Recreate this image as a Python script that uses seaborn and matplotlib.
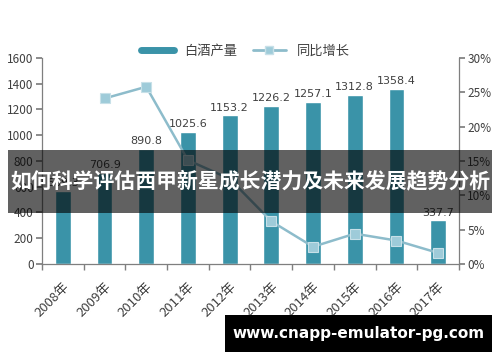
import numpy as np
import pandas as pd
import matplotlib.pyplot as plt
import seaborn as sns
from matplotlib.lines import Line2D
from matplotlib.patches import Rectangle
from matplotlib.ticker import FuncFormatter

# chart data
years = ['2008年', '2009年', '2010年', '2011年', '2012年',
         '2013年', '2014年', '2015年', '2016年', '2017年']
output = [569.3, 706.9, 890.8, 1025.6, 1153.2, 1226.2, 1257.1, 1312.8, 1358.4, 337.7]
growth = [np.nan, 24.1, 25.8, 15.1, 12.4, 6.2, 2.5, 4.4, 3.4, 1.6]

bar_name = '白酒产量'
line_name = '同比增长'
title_text = '如何科学评估西甲新星成长潜力及未来发展趋势分析'
site_text = 'www.cnapp-emulator-pg.com'

BAR_COLOR = '#3a93a8'
LINE_COLOR = '#8dbccb'
TEXT_COLOR = '#404040'

sns.set_theme(style='white')
plt.rcParams['font.family'] = ['Noto Sans CJK SC', 'DejaVu Sans']

df = pd.DataFrame({'year': years, 'output': output, 'growth': growth})

fig = plt.figure(figsize=(5, 3.62), dpi=100)
ax = fig.add_axes([0.084, 0.271, 0.834, 0.569])

sns.barplot(data=df, x='year', y='output', color=BAR_COLOR, saturation=1,
            width=0.38, ax=ax)
ax.set_xlim(-0.5, len(years) - 0.5)
ax.set_ylim(0, 1600)
ax.set_yticks(range(0, 1601, 200))
ax.set_xlabel('')
ax.set_ylabel('')

for c in ax.containers:
    ax.bar_label(c, labels=[f'{v:.1f}' for v in output], padding=2,
                 fontsize=8, color=TEXT_COLOR, family='DejaVu Sans')

ax2 = ax.twinx()
sns.lineplot(data=df, x='year', y='growth', ax=ax2, sort=False,
             color=LINE_COLOR, lw=1.8, marker='s', markersize=7,
             markerfacecolor='#9ecbd9', markeredgecolor='#c7e0e8',
             markeredgewidth=0.8)
ax2.set_ylim(0, 30)
ax2.set_yticks(range(0, 31, 5))
ax2.yaxis.set_major_formatter(FuncFormatter(lambda v, p: f'{v:.0f}%'))
ax2.set_ylabel('')
ax2.set_xlim(-0.5, len(years) - 0.5)

# axis styling
for a in (ax, ax2):
    a.spines['top'].set_visible(False)
    for s in ('left', 'right', 'bottom'):
        a.spines[s].set_color('#7f7f7f')
        a.spines[s].set_linewidth(0.9)
ax.spines['right'].set_visible(False)
ax2.spines['left'].set_visible(False)
ax2.spines['bottom'].set_visible(False)

ax.tick_params(axis='y', left=True, length=4, color='#7f7f7f',
               labelsize=8.5, labelcolor=TEXT_COLOR, pad=2)
ax2.tick_params(axis='y', right=True, length=4, color='#7f7f7f',
                labelsize=8.5, labelcolor=TEXT_COLOR, pad=2)

ax.set_xticks(np.arange(len(years)))
ax.set_xticklabels(years, rotation=45, ha='right', rotation_mode='anchor',
                   fontsize=9.5, color=TEXT_COLOR)
ax.set_xticks(np.arange(-0.5, len(years), 1), minor=True)
ax.tick_params(axis='x', which='major', bottom=False, pad=6)
ax.tick_params(axis='x', which='minor', bottom=True, length=4, color='#7f7f7f')

# legend
handles = [Line2D([], [], color=BAR_COLOR, lw=5),
           Line2D([], [], color=LINE_COLOR, lw=2, marker='s', markersize=6,
                  markerfacecolor='#9ecbd9', markeredgecolor='#c7e0e8')]
fig.legend(handles, [bar_name, line_name], loc='center',
           bbox_to_anchor=(0.49, 0.858), ncol=2, frameon=False,
           fontsize=9.5, handlelength=2.5, columnspacing=1.2,
           labelcolor=TEXT_COLOR)

# overlay banner and site tag
fig.patches.append(Rectangle((0.016, 0.412), 0.968, 0.174, transform=fig.transFigure,
                             facecolor='black', alpha=0.62, edgecolor='none', zorder=10))
fig.text(0.5, 0.499, title_text, ha='center', va='center', color='white',
         fontsize=15, fontweight='bold', zorder=11)
fig.patches.append(Rectangle((0.45, 0.028), 0.534, 0.102, transform=fig.transFigure,
                             facecolor='black', edgecolor='none', zorder=10))
fig.text(0.717, 0.079, site_text, ha='center', va='center', color='white',
         fontsize=11, fontweight='bold', family='DejaVu Sans', zorder=11)

fig.savefig('out.png', dpi=100)
